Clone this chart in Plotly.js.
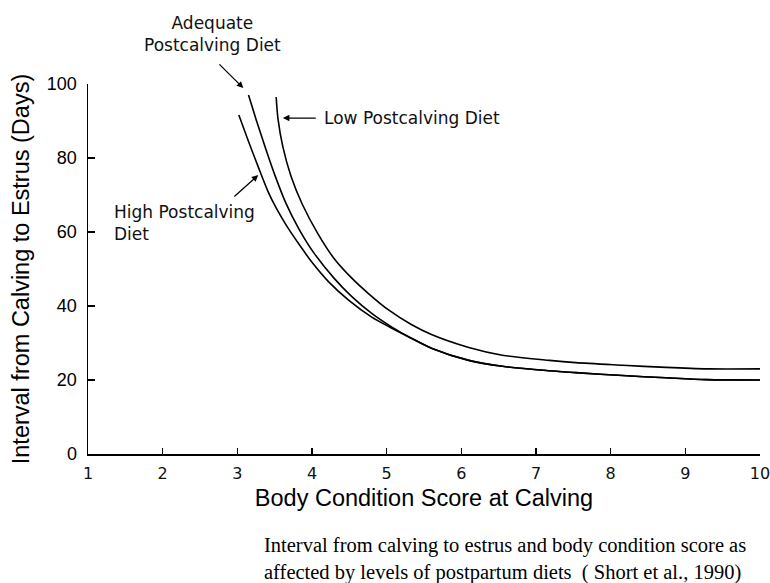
<!DOCTYPE html>
<html>
<head>
<meta charset="utf-8">
<script src="https://cdn.plot.ly/plotly-3.0.1.min.js"></script>
<style>html,body{margin:0;padding:0;background:#fff;}#chart{width:770px;height:583px;}</style>
</head>
<body>
<div id="chart"></div>
<script>
// Body condition score at calving (x) vs interval from calving to estrus (days)
const lowX = [3.52, 3.545, 3.61, 3.72, 3.87, 4.08, 4.29, 4.53, 4.76, 5.02, 5.33, 5.60, 6.10, 6.55, 7.18, 7.53, 8.16, 8.74, 9.30, 10.0];
const lowY = [96.5, 90.5, 83.0, 75.0, 67.5, 59.5, 53.0, 47.6, 43.3, 39.0, 35.0, 32.3, 28.8, 26.7, 25.3, 24.7, 24.0, 23.4, 23.0, 23.0];

const adequateX = [3.15, 3.25, 3.38, 3.50, 3.65, 3.82, 4.02, 4.30, 4.53, 4.80, 5.07, 5.33, 5.60, 6.10, 6.55, 7.18, 7.53, 8.16, 8.74, 9.28, 10.0];
const adequateY = [97.0, 90.5, 82.5, 75.5, 67.8, 61.0, 54.5, 47.4, 42.6, 38.0, 34.3, 31.3, 28.6, 25.3, 23.7, 22.5, 22.0, 21.2, 20.6, 20.1, 20.0];

const highX = [3.02, 3.14, 3.28, 3.41, 3.52, 3.65, 3.85, 4.00, 4.22, 4.49, 4.80, 5.07, 5.33, 5.60, 6.10, 6.55, 7.18, 7.53, 8.16, 8.74, 9.28, 10.0];
const highY = [91.6, 85.0, 77.6, 71.0, 66.5, 62.0, 56.0, 51.8, 46.6, 41.6, 37.0, 34.0, 31.3, 28.6, 25.3, 23.7, 22.5, 22.0, 21.2, 20.6, 20.1, 20.0];

const xTicks = [1, 2, 3, 4, 5, 6, 7, 8, 9, 10];
const yTicks = [0, 20, 40, 60, 80, 100];

const xTitle = "Body Condition Score at Calving";
const yTitle = "Interval from Calving to Estrus (Days)";
const caption = "Interval from calving to estrus and body condition score as<br>affected by levels of postpartum diets  ( Short et al., 1990)";

const lineStyle = {color: "#000", width: 1.6, shape: "spline", smoothing: 0.8};
const traces = [
  {x: lowX, y: lowY, name: "Low Postcalving Diet", mode: "lines", line: lineStyle},
  {x: adequateX, y: adequateY, name: "Adequate Postcalving Diet", mode: "lines", line: lineStyle},
  {x: highX, y: highY, name: "High Postcalving Diet", mode: "lines", line: lineStyle}
];

const annFont = {family: "DejaVu Sans, sans-serif", size: 17, color: "#111"};
const arrow = {showarrow: true, arrowhead: 2, arrowsize: 1, arrowwidth: 1.3, arrowcolor: "#000", axref: "x", ayref: "y", text: ""};

const layout = {
  width: 770, height: 583,
  margin: {l: 88, r: 10, t: 84, b: 129},
  paper_bgcolor: "#fff", plot_bgcolor: "#fff",
  showlegend: false,
  xaxis: {
    range: [1, 10], tickvals: xTicks, ticktext: xTicks.map(String),
    showgrid: false, zeroline: false, showline: true, linecolor: "#000", linewidth: 1.5,
    ticks: "inside", ticklen: 6, tickwidth: 1.3, tickcolor: "#000",
    ticklabelstandoff: 4, ticklabeloverflow: "allow",
    tickfont: {family: "DejaVu Sans, sans-serif", size: 16, color: "#111"},
    title: {text: xTitle, font: {family: "Liberation Sans, Arial, sans-serif", size: 23.5, color: "#000"}, standoff: 8}
  },
  yaxis: {
    range: [0, 100], tickvals: yTicks,
    showgrid: false, zeroline: false, showline: true, linecolor: "#000", linewidth: 1.5,
    ticks: "inside", ticklen: 7, tickwidth: 1.3, tickcolor: "#000",
    ticklabelstandoff: 6,
    tickfont: {family: "Liberation Sans, Arial, sans-serif", size: 18, color: "#000"},
    title: {text: yTitle, font: {family: "Liberation Sans, Arial, sans-serif", size: 23.5, color: "#000"}, standoff: 10}
  },
  annotations: [
    {xref: "paper", yref: "paper", x: 0.186, y: 1.135, text: "Adequate<br>Postcalving Diet", showarrow: false, font: annFont, align: "center", xanchor: "center", yanchor: "middle"},
    Object.assign({}, arrow, {x: 3.08, y: 98.9, ax: 2.74, ay: 105.7}),
    {xref: "x", yref: "y", x: 4.13, y: 90.8, text: "Low Postcalving Diet", showarrow: false, font: annFont, xanchor: "left", yanchor: "middle"},
    Object.assign({}, arrow, {x: 3.61, y: 90.8, ax: 4.07, ay: 90.8}),
    {xref: "x", yref: "y", x: 1.32, y: 62.3, text: "High Postcalving<br>Diet", showarrow: false, font: annFont, align: "left", xanchor: "left", yanchor: "middle"},
    Object.assign({}, arrow, {x: 3.28, y: 75.4, ax: 2.94, ay: 69.2}),
    {xref: "paper", yref: "paper", x: 0.259, y: -0.284, text: caption, showarrow: false, align: "left", xanchor: "left", yanchor: "middle",
     font: {family: "Liberation Serif, Times New Roman, serif", size: 20.5, color: "#000"}}
  ]
};

Plotly.newPlot("chart", traces, layout, {displayModeBar: false, staticPlot: true});
</script>
</body>
</html>
